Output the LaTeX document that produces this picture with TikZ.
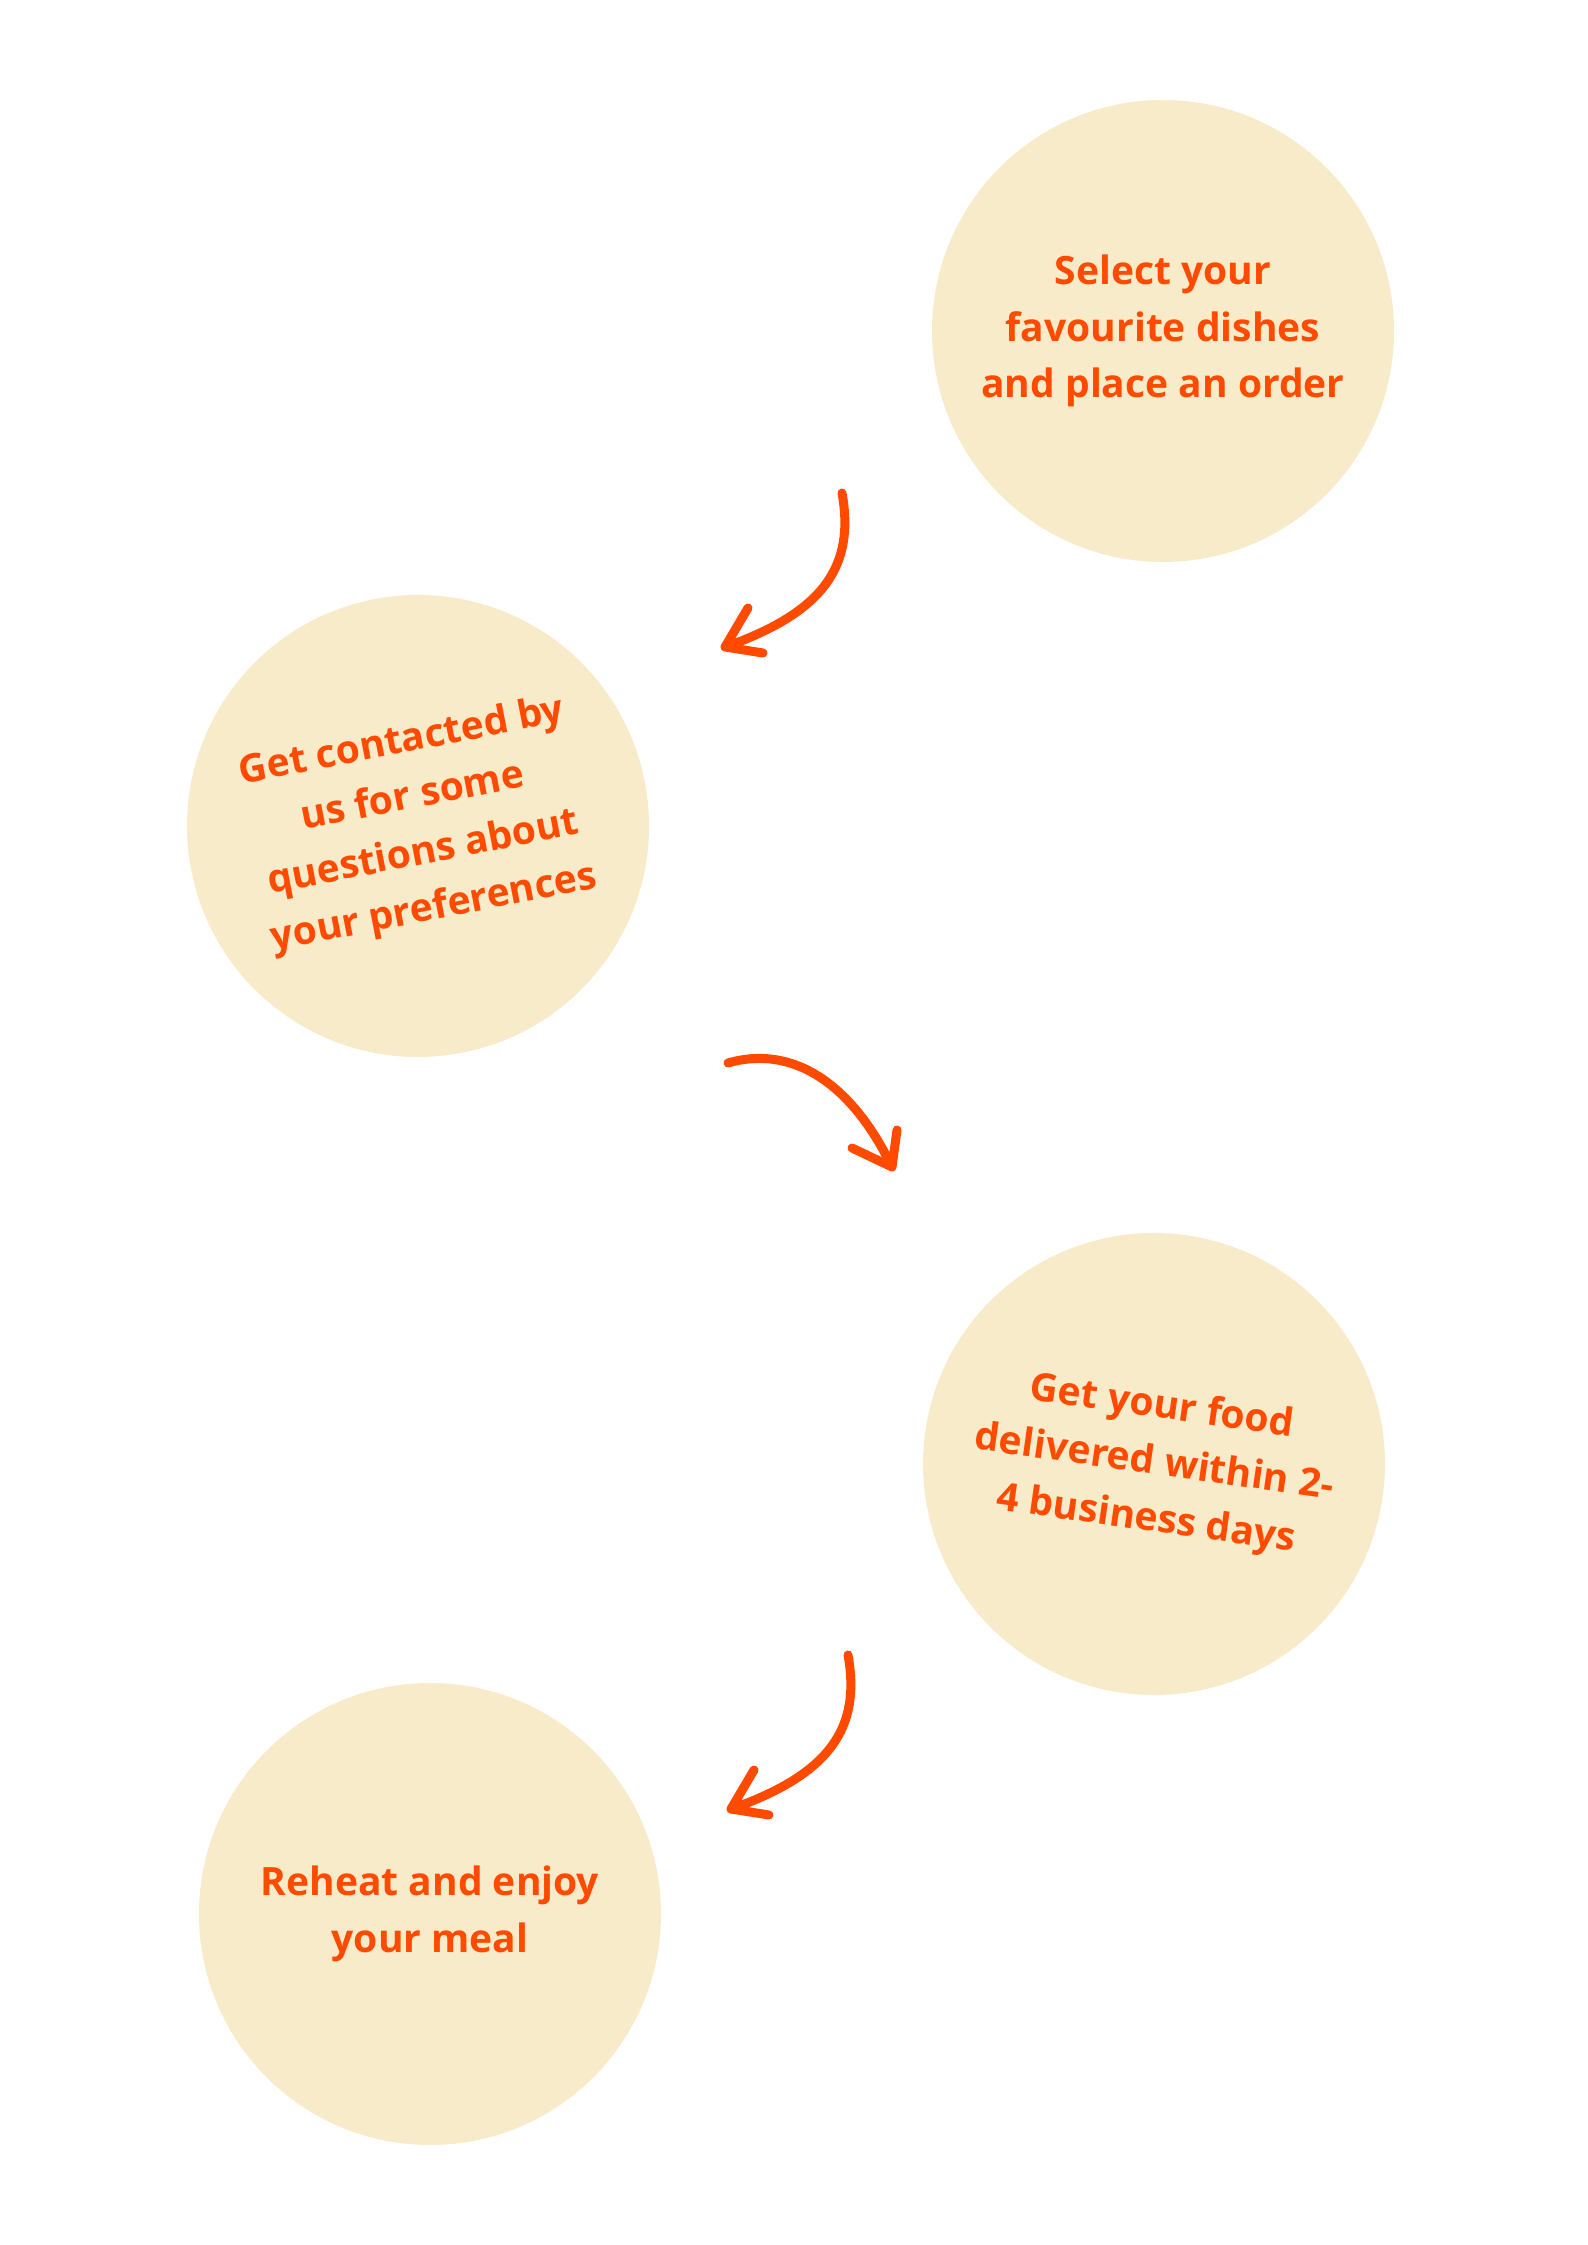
\documentclass[tikz,border=0pt]{standalone}
\usepackage{fontspec}
\setmainfont{Open Sans}
\usepackage{xcolor}
\usepackage{tikz}
\usetikzlibrary{positioning}
\definecolor{cream}{HTML}{F7EBC9}
\definecolor{carrot}{HTML}{FF4A00}
\tikzset{
  stepcircle/.style={circle, fill=cream, minimum size=4.62cm, inner sep=0pt,
    align=center, text=carrot, font=\fontsize{11.1}{16.1}\selectfont\bfseries},
  bentarrow/.style={draw=carrot, line width=0.09cm, line cap=round, line join=round}
}
\begin{document}
\begin{tikzpicture}
\useasboundingbox (0,0) rectangle (15.87,22.45);
\node[stepcircle] (select) at (11.63,19.14) {Select your\\favourite dishes\\and place an order};
\node[stepcircle, rotate=11] (contact) at (4.18,14.19) {Get contacted by\\us for some\\questions about\\your preferences};
\node[stepcircle, rotate=-8] (deliver) at (11.54,7.81) {Get your food\\delivered within 2-\\4 business days};
\node[stepcircle] (reheat) at (4.30,3.31) {Reheat and enjoy\\your meal};
\coordinate (selectout) at (8.42,17.52);
\coordinate (contactin) at (7.25,15.98);
\coordinate (contactout) at (7.28,11.82);
\coordinate (deliverin) at (8.92,10.78);
\coordinate (deliverout) at (8.48,5.90);
\coordinate (reheatin) at (7.31,4.36);
\draw[bentarrow] (selectout) .. controls (8.55,16.80) and (8.25,16.33) .. (contactin)
  -- ++(0.23,0.39) (contactin) -- ++(0.38,-0.06);
\draw[bentarrow] (contactout) .. controls (7.90,12.00) and (8.50,11.65) .. (deliverin)
  -- ++(0.05,0.37) (deliverin) -- ++(-0.40,0.19);
\draw[bentarrow] (deliverout) .. controls (8.61,5.18) and (8.31,4.71) .. (reheatin)
  -- ++(0.23,0.39) (reheatin) -- ++(0.38,-0.06);
\end{tikzpicture}
\end{document}
